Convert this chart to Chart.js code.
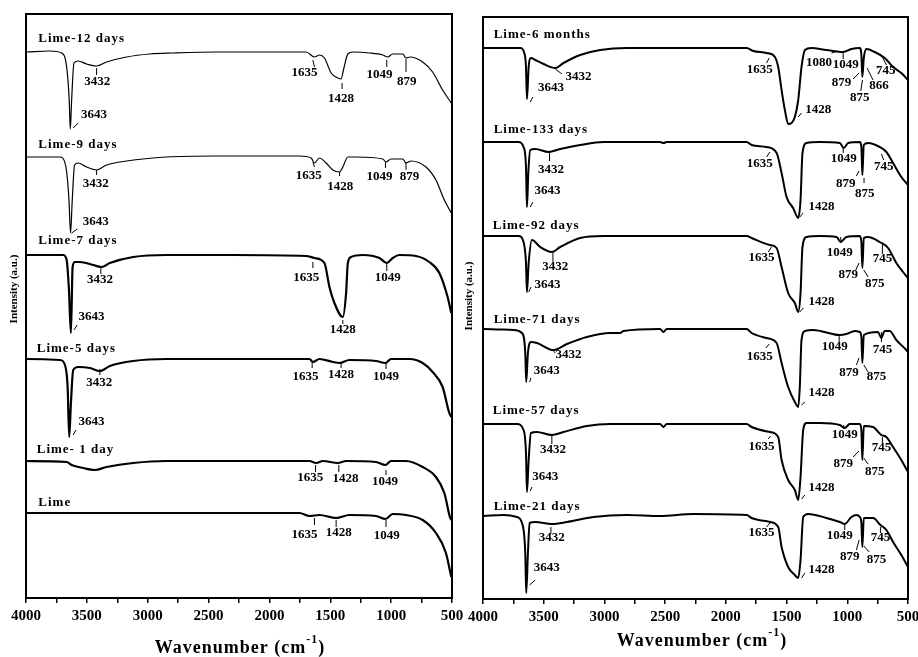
<!DOCTYPE html>
<html>
<head>
<meta charset="utf-8">
<script src="https://cdn.jsdelivr.net/npm/chart.js@4/dist/chart.umd.min.js"></script>
<style>
html, body { margin: 0; padding: 0; background: #fff; overflow: hidden; width: 918px; height: 657px; }
#left { position: absolute; left: 0; top: 0; }
#right { position: absolute; left: 460px; top: 0; }
</style>
</head>
<body>
<canvas id="left" width="480" height="657"></canvas>
<canvas id="right" width="470" height="657"></canvas>
<script>
// spectra: [wavenumber cm-1, intensity (a.u., stacked)]
var lime12 = [[3995,546],[3803,547],[3707,545],[3666,531],[3645,498],[3636,469],[3625,498],[3606,535],[3571,537],[3502,534],[3420,532],[3338,536],[3174,541],[2983,544],[2792,545],[2436,546],[2026,546],[1698,546],[1630,541],[1589,543],[1548,540],[1493,525],[1452,521],[1411,519],[1392,528],[1356,544],[1315,546],[1178,545],[1069,543],[1028,541],[987,544],[905,544],[878,540],[845,541],[741,536],[659,526],[577,508],[506,495]];
var lime9 = [[3995,441],[3721,441],[3672,431],[3647,398],[3634,365],[3620,398],[3601,433],[3571,435],[3502,431],[3420,428],[3338,433],[3174,437],[2846,441],[2436,442],[1753,442],[1657,440],[1630,435],[1589,440],[1534,435],[1479,428],[1424,426],[1397,431],[1356,441],[1288,441],[1069,439],[1042,436],[1001,439],[905,439],[878,435],[837,437],[714,431],[632,418],[563,398],[506,385]];
var lime7 = [[3995,343],[3694,343],[3666,338],[3647,308],[3631,265],[3617,331],[3598,336],[3557,336],[3448,333],[3379,331],[3311,335],[3120,341],[2846,343],[2299,343],[1698,342],[1630,340],[1548,335],[1507,311],[1466,295],[1397,281],[1370,305],[1356,335],[1329,341],[1233,343],[1096,340],[1036,335],[987,340],[933,343],[796,342],[687,336],[604,325],[536,301],[506,285]];
var lime5 = [[3995,239],[3721,238],[3680,233],[3658,211],[3645,161],[3631,195],[3612,228],[3571,231],[3475,230],[3393,227],[3311,232],[3120,237],[2846,239],[1671,239],[1643,236],[1589,239],[1479,236],[1424,235],[1343,238],[1124,237],[1047,235],[1001,239],[850,239],[741,235],[659,226],[577,211],[522,185],[506,181]];
var lime1 = [[3995,137],[3666,136],[3625,133],[3530,130],[3434,128],[3338,131],[3120,135],[2846,137],[1671,137],[1616,135],[1561,137],[1438,135],[1370,137],[1124,136],[1047,133],[1001,137],[878,137],[741,131],[632,121],[563,105],[517,81],[506,78]];
var lime0 = [[3995,85],[1753,85],[1671,82],[1589,83],[1452,80],[1343,83],[1124,82],[1047,79],[987,84],[878,83],[741,78],[632,65],[550,45],[506,21]];

var lime6m = [[3995,551],[3693,551],[3660,546],[3646,532],[3638,500],[3624,532],[3605,541],[3570,539],[3501,535],[3405,531],[3337,536],[3200,544],[3035,549],[2816,551],[1829,551],[1774,548],[1665,546],[1596,542],[1569,532],[1541,509],[1514,489],[1487,475],[1459,476],[1432,482],[1404,499],[1377,532],[1349,549],[1295,551],[1172,549],[1034,547],[966,550],[897,551],[884,544],[876,522],[864,541],[842,550],[774,547],[692,541],[623,532],[555,526],[500,519]];
var lime133 = [[3995,457],[3707,457],[3666,452],[3646,432],[3638,392],[3627,426],[3611,449],[3570,450],[3460,447],[3364,450],[3200,454],[3008,457],[2542,457],[2514,456],[2487,457],[1829,457],[1788,454],[1665,452],[1582,446],[1541,426],[1500,402],[1446,391],[1404,381],[1385,399],[1369,446],[1336,456],[1226,457],[1062,456],[1029,451],[993,456],[897,457],[884,452],[876,424],[864,454],[829,456],[733,452],[678,447],[623,436],[555,422],[500,414]];
var lime92 = [[3995,363],[3707,363],[3666,357],[3646,336],[3638,307],[3624,336],[3597,359],[3529,352],[3433,347],[3364,352],[3200,361],[3008,363],[1829,363],[1788,361],[1637,354],[1582,351],[1541,332],[1487,306],[1432,296],[1404,287],[1385,306],[1369,352],[1336,362],[1226,363],[1089,362],[1054,357],[1007,362],[897,363],[884,357],[876,331],[864,361],[829,362],[733,357],[664,351],[596,336],[541,327],[500,321]];
var lime71 = [[3995,270],[3748,269],[3679,266],[3652,246],[3644,217],[3630,246],[3605,257],[3556,256],[3419,249],[3309,255],[3145,262],[2953,266],[2871,266],[2843,268],[2542,270],[2514,267],[2487,270],[1829,270],[1788,266],[1665,261],[1582,256],[1541,236],[1487,212],[1432,197],[1404,192],[1391,212],[1377,259],[1349,268],[1281,269],[1062,264],[1007,265],[938,268],[897,267],[884,262],[876,236],[864,264],[747,267],[720,261],[692,268],[651,268],[596,259],[514,249],[500,247]];
var lime57 = [[3995,175],[3720,175],[3666,169],[3646,146],[3638,107],[3624,139],[3605,166],[3556,167],[3433,164],[3337,167],[3145,173],[2953,175],[2542,175],[2514,172],[2487,175],[1829,175],[1788,172],[1637,167],[1569,162],[1541,139],[1487,119],[1432,109],[1404,99],[1385,122],[1363,169],[1336,176],[1226,176],[1062,174],[1021,171],[980,175],[897,175],[884,169],[876,139],[864,173],[788,172],[720,164],[678,162],[623,152],[555,139],[500,127]];
var lime21 = [[3995,83],[3830,84],[3720,82],[3679,76],[3652,46],[3644,6],[3630,46],[3616,76],[3570,77],[3433,75],[3309,77],[3090,82],[2816,84],[2542,83],[2268,85],[1829,84],[1788,81],[1637,77],[1569,72],[1541,52],[1487,32],[1432,24],[1404,21],[1385,39],[1363,82],[1322,85],[1172,81],[1062,77],[1021,75],[966,82],[925,84],[897,82],[884,76],[876,52],[864,81],[788,81],[727,74],[678,69],[623,57],[555,44],[500,32]];

var leftNames = ['Lime-12 days', 'Lime-9 days', 'Lime-7 days', 'Lime-5 days', 'Lime- 1 day', 'Lime'];
var rightNames = ['Lime-6 months', 'Lime-133 days', 'Lime-92 days', 'Lime-71 days', 'Lime-57 days', 'Lime-21 days'];
var xTicks = [4000, 3500, 3000, 2500, 2000, 1500, 1000, 500];

// where the names and band labels sit, in data units
var leftNamePos = [[3899,559],[3899,453],[3899,357],[3912,249],[3912,148],[3899,95]];
var rightNamePos = [[3912,564],[3912,469],[3920,373],[3912,279],[3920,188],[3912,92]];

var leftPeaks = [
  ['3432',3415,516],['3643',3442,483],['1635',1712,525],['1428',1411,499],['1049',1096,523],['879',872,516],
  ['3432',3426,414],['3643',3426,376],['1635',1676,422],['1428',1419,411],['1049',1096,421],['879',850,421],
  ['3432',3393,318],['3643',3461,281],['1635',1698,320],['1428',1397,268],['1049',1028,320],
  ['3432',3399,215],['3643',3461,176],['1635',1703,221],['1428',1411,223],['1049',1042,221],
  ['1635',1665,120],['1428',1375,119],['1049',1050,116],
  ['1635',1712,63],['1428',1430,65],['1049',1036,62]
];
var leftLeaders = [
  [3420,530,3420,523],[3612,470,3571,475],[1643,538,1630,531],[1403,515,1403,509],[1036,538,1036,531],[878,539,878,526],
  [3420,428,3420,423],[3625,365,3579,369],[1643,436,1630,431],[1424,426,1424,422],[1047,436,1047,430],[878,436,878,428],
  [3385,331,3385,324],[3606,268,3579,273],[1643,336,1643,330],[1397,278,1397,274],[1036,335,1036,327],
  [3393,229,3393,223],[3612,163,3590,168],[1649,235,1649,230],[1411,235,1411,230],[1042,235,1042,229],
  [1621,133,1621,126],[1430,133,1430,126],[1042,128,1042,123],
  [1630,80,1630,73],[1452,78,1452,71],[1042,78,1042,71]
];

var rightPeaks = [
  ['1635',1720,529],['3432',3213,522],['3643',3441,511],['1428',1240,489],['1080',1232,536],['1049',1012,534],['879',1048,516],['875',897,501],['866',738,513],['745',683,528],
  ['3432',3441,429],['3643',3468,408],['1635',1720,435],['1428',1212,392],['1049',1029,440],['879',1012,415],['875',856,405],['745',700,432],
  ['3432',3405,332],['3643',3468,314],['1635',1706,341],['1428',1212,297],['1049',1062,346],['879',993,324],['875',774,315],['745',711,340],
  ['3432',3296,244],['3643',3474,228],['1635',1720,242],['1428',1212,206],['1049',1103,252],['879',985,226],['875',760,222],['745',711,249],
  ['3432',3424,149],['3643',3487,122],['1635',1706,152],['1428',1212,111],['1049',1021,164],['879',1034,135],['875',774,127],['745',719,151],
  ['3432',3433,61],['3643',3474,31],['1635',1706,66],['1428',1212,29],['1049',1062,63],['879',980,42],['875',760,39],['745',727,61]
];
var rightLeaders = [
  [1665,536,1643,541],[3405,530,3350,525],[3611,497,3589,502],[1404,482,1377,486],[1130,546,1075,548],[1034,546,1034,540],[952,520,903,526],[889,508,875,519],[788,519,837,531],[711,542,678,534],
  [3452,447,3452,438],[3611,392,3589,397],[1665,442,1637,447],[1391,382,1363,386],[1034,452,1034,446],[925,423,903,428],[862,421,862,416],[719,445,700,439],
  [3424,346,3424,337],[3624,307,3605,312],[1651,347,1624,352],[1391,287,1363,291],[1054,362,1054,356],[930,329,903,336],[864,329,829,322],[711,356,711,345],
  [3433,250,3405,246],[3616,217,3605,221],[1670,251,1643,255],[1377,194,1349,197],[1067,264,1067,256],[925,234,903,241],[864,234,829,227],[719,267,719,257],
  [3433,164,3433,155],[3611,108,3597,112],[1651,160,1632,163],[1377,100,1349,104],[1029,174,1029,170],[952,142,903,148],[864,141,829,135],[711,162,711,156],
  [3441,72,3441,65],[3616,14,3570,19],[1665,72,1637,76],[1377,21,1349,26],[1021,74,1021,69],[925,49,903,59],[864,53,820,47],[727,72,727,66]
];

var SERIF = "'Liberation Serif', 'DejaVu Serif', serif";

function toXY(arr) {
  return arr.map(function (p) { return { x: p[0], y: p[1] }; });
}

var deco = {
  id: 'deco',
  afterDraw: function (chart, args, o) {
    var ctx = chart.ctx, a = chart.chartArea, x = chart.scales.x, y = chart.scales.y;
    ctx.save();
    ctx.strokeStyle = '#000';
    ctx.fillStyle = '#000';
    ctx.lineWidth = 2;
    ctx.strokeRect(a.left, a.top, a.right - a.left, a.bottom - a.top);

    ctx.lineWidth = 1;
    o.leaders.forEach(function (l) {
      ctx.beginPath();
      ctx.moveTo(x.getPixelForValue(l[0]), y.getPixelForValue(l[1]));
      ctx.lineTo(x.getPixelForValue(l[2]), y.getPixelForValue(l[3]));
      ctx.stroke();
    });

    ctx.font = 'bold 13px ' + SERIF;
    ctx.textAlign = 'center';
    ctx.textBaseline = 'middle';
    o.peaks.forEach(function (p) {
      ctx.fillText(p[0], x.getPixelForValue(p[1]), y.getPixelForValue(p[2]));
    });

    ctx.font = 'bold 13px ' + SERIF;
    ctx.textAlign = 'left';
    ctx.letterSpacing = '1px';
    o.names.forEach(function (n, i) {
      ctx.fillText(n, x.getPixelForValue(o.namePos[i][0]), y.getPixelForValue(o.namePos[i][1]));
    });

    // x title with superscript
    ctx.letterSpacing = '1px';
    ctx.font = 'bold 18px ' + SERIF;
    var t1 = 'Wavenumber (cm', t3 = ')';
    var w1 = ctx.measureText(t1).width, w3 = ctx.measureText(t3).width;
    ctx.font = 'bold 12px ' + SERIF;
    var w2 = ctx.measureText('-1').width;
    var sx = o.titleX - (w1 + w2 + w3) / 2;
    ctx.textAlign = 'left';
    ctx.font = 'bold 18px ' + SERIF;
    ctx.fillText(t1, sx, o.titleY);
    ctx.fillText(t3, sx + w1 + w2, o.titleY);
    ctx.font = 'bold 12px ' + SERIF;
    ctx.fillText('-1', sx + w1, o.titleY - 8);

    // y title
    ctx.letterSpacing = '0px';
    ctx.translate(o.yTitleX, o.yTitleY);
    ctx.rotate(-Math.PI / 2);
    ctx.textAlign = 'center';
    ctx.font = 'bold 11px ' + SERIF;
    ctx.fillText('Intensity (a.u.)', 0, 0);
    ctx.restore();
  }
};

function makeChart(id, series, names, widths, ymax, pad, axisH, deco_opts) {
  var ctx = document.getElementById(id).getContext('2d');
  return new Chart(ctx, {
    type: 'line',
    data: {
      datasets: series.map(function (s, i) {
        return {
          label: names[i],
          data: toXY(s),
          borderColor: '#000',
          borderWidth: widths[i],
          pointRadius: 0,
          cubicInterpolationMode: 'monotone',
          fill: false
        };
      })
    },
    options: {
      responsive: false,
      animation: false,
      layout: { padding: pad },
      plugins: { legend: { display: false }, tooltip: { enabled: false }, deco: deco_opts },
      scales: {
        x: {
          type: 'linear',
          min: 500,
          max: 4000,
          reverse: true,
          afterBuildTicks: function (s) {
            var t = [];
            for (var i = 0; i < xTicks.length; i++) {
              t.push({ value: xTicks[i] });
              if (i < xTicks.length - 1) t.push({ value: xTicks[i] - 250 });
            }
            s.ticks = t;
          },
          afterFit: function (s) { s.height = axisH; },
          ticks: {
            autoSkip: false,
            maxRotation: 0,
            padding: 4,
            color: '#000',
            font: { family: SERIF, size: 15, weight: 'bold' },
            callback: function (v) { return xTicks.indexOf(v) >= 0 ? String(v) : ''; }
          },
          grid: { drawOnChartArea: false, tickLength: 5, color: '#000', lineWidth: 1.5 },
          border: { display: false }
        },
        y: { display: false, min: 0, max: ymax }
      }
    },
    plugins: [deco]
  });
}

makeChart('left', [lime12, lime9, lime7, lime5, lime1, lime0], leftNames,
  [1.2, 1.2, 2.2, 2.2, 2.2, 2.2], 584,
  { left: 26, right: 28, top: 14, bottom: 0 }, 59,
  { leaders: leftLeaders, peaks: leftPeaks, names: leftNames, namePos: leftNamePos,
    titleX: 240, titleY: 648, yTitleX: 14, yTitleY: 289 });

makeChart('right', [lime6m, lime133, lime92, lime71, lime57, lime21], rightNames,
  [2, 2, 2, 2, 2, 2], 582,
  { left: 23, right: 22, top: 17, bottom: 0 }, 58,
  { leaders: rightLeaders, peaks: rightPeaks, names: rightNames, namePos: rightNamePos,
    titleX: 242, titleY: 641, yTitleX: 9, yTitleY: 296 });
</script>
</body>
</html>
